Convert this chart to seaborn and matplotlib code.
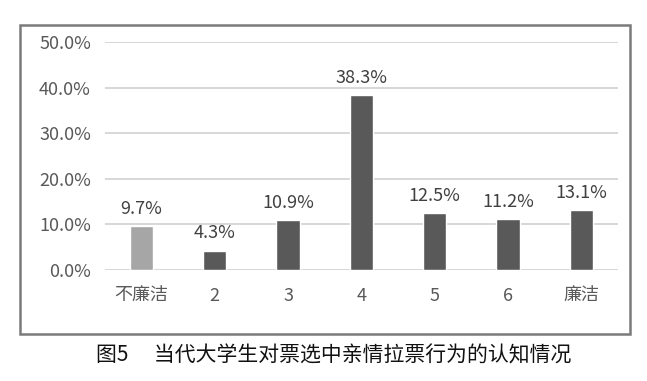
import matplotlib
matplotlib.use("Agg")
import matplotlib.pyplot as plt
import seaborn as sns
import pandas as pd
from matplotlib.patches import Rectangle
from matplotlib.ticker import FuncFormatter

categories = ["不廉洁", "2", "3", "4", "5", "6", "廉洁"]
values = [9.7, 4.3, 10.9, 38.3, 12.5, 11.2, 13.1]
labels = ["9.7%", "4.3%", "10.9%", "38.3%", "12.5%", "11.2%", "13.1%"]
yticks = [0, 10, 20, 30, 40, 50]
title = "图5　 当代大学生对票选中亲情拉票行为的认知情况"

sns.set_theme(style="white")
plt.rcParams['font.family'] = ['Noto Sans CJK SC', 'DejaVu Sans']

df = pd.DataFrame({"cat": categories, "val": values})
colors = ["#a6a6a6"] + ["#595959"] * 6

fig = plt.figure(figsize=(6.47, 3.81), dpi=100)
ax = fig.add_axes([0.162, 0.291, 0.793, 0.599])
sns.barplot(data=df, x="cat", y="val", hue="cat", palette=colors,
            width=0.32, legend=False, ax=ax, saturation=1)
ax.set_ylim(0, 50)
ax.set_yticks(yticks)
ax.yaxis.set_major_formatter(FuncFormatter(lambda v, p: f"{v:.1f}%"))
ax.grid(axis="y", color="#d4d4d4", linewidth=1.3)
ax.set_axisbelow(True)
for s in ax.spines.values():
    s.set_visible(False)
ax.set_xlabel("")
ax.set_ylabel("")
ax.tick_params(axis="y", labelsize=13, labelcolor="#595959", pad=10, length=0)
ax.tick_params(axis="x", labelsize=13, labelcolor="#595959", pad=12, length=0)
for lab in ax.get_xticklabels() + ax.get_yticklabels():
    lab.set_fontweight("light")
for i, (v, l) in enumerate(zip(values, labels)):
    ax.text(i, v + 1.8, l, ha="center", va="bottom", fontsize=13,
            color="#404040", fontweight="light")

fig.patches.append(Rectangle((0.031, 0.123), 0.943, 0.811, transform=fig.transFigure,
                             fill=False, edgecolor="#7a7a7a", linewidth=1.8))
fig.text(0.515, 0.068, title, ha="center", va="center", fontsize=15,
         color="#111111", fontweight="medium")
fig.savefig("out.png", dpi=100)
